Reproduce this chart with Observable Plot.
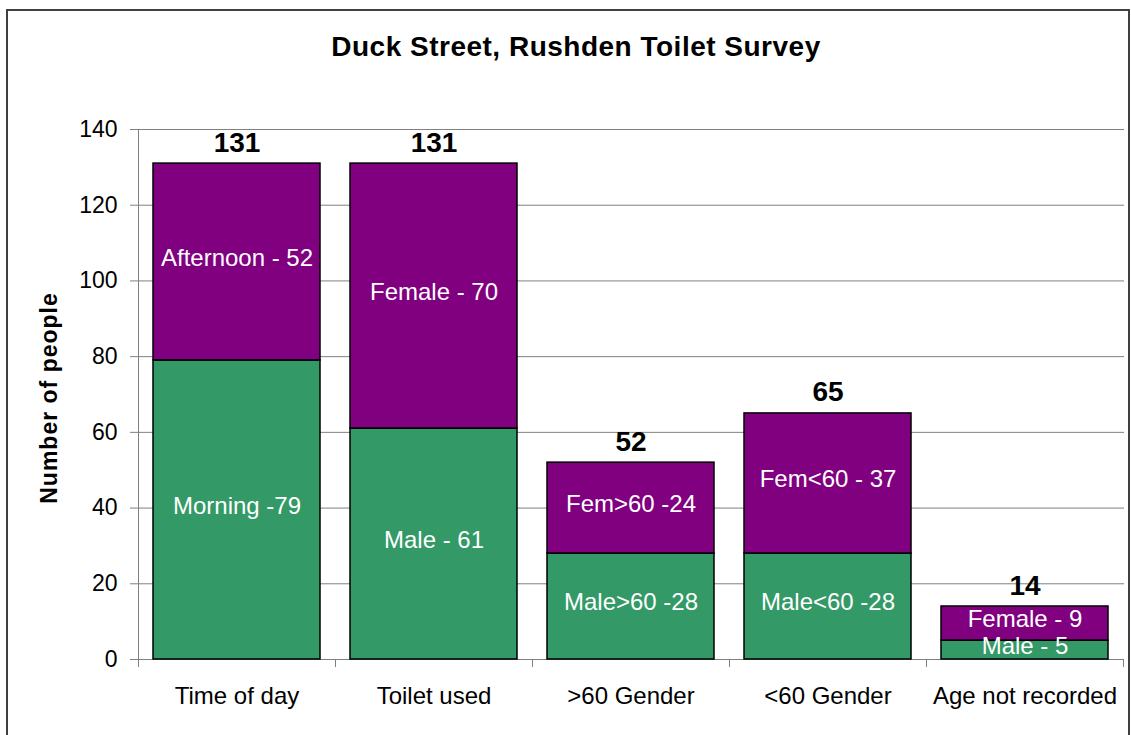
<!DOCTYPE html>
<html><head><meta charset="utf-8">
<script src="https://cdn.jsdelivr.net/npm/d3@7"></script>
<script src="https://cdn.jsdelivr.net/npm/@observablehq/plot@0.6"></script>
<style>
body{margin:0;background:#fff;}
#wrap{position:relative;width:1131px;height:735px;overflow:hidden;font-family:"Liberation Sans",Arial,sans-serif;color:#000;}
#border{position:absolute;left:6px;top:9px;width:1120px;height:800px;border:2px solid #404040;}
#title{position:absolute;left:0;width:1152px;top:33px;text-align:center;font-size:28px;font-weight:bold;line-height:28px;letter-spacing:0.5px;}
#ytitle{position:absolute;left:49px;top:398px;transform:translate(-50%,-50%) rotate(-90deg);white-space:nowrap;font-size:23px;font-weight:bold;letter-spacing:1px;}
#chart{position:absolute;left:0;top:0;}
</style></head>
<body><div id="wrap"><div id="border"></div><div id="chart"></div><div id="title">Duck Street, Rushden Toilet Survey</div><div id="ytitle">Number of people</div></div>
<script>
const categories = ["Time of day", "Toilet used", ">60 Gender", "<60 Gender", "Age not recorded"];
const lowerValues = [79, 61, 28, 28, 5];
const upperValues = [52, 70, 24, 37, 9];
const lowerLabels = ["Morning -79", "Male - 61", "Male>60 -28", "Male<60 -28", "Male - 5"];
const upperLabels = ["Afternoon - 52", "Female - 70", "Fem>60 -24", "Fem<60 - 37", "Female - 9"];
const totals = [131, 131, 52, 65, 14];
const yTicks = [0, 20, 40, 60, 80, 100, 120, 140];
const seriesNames = ["lower", "upper"];
const seriesColors = ["#339966", "#800080"];

const rows = [];
categories.forEach((c, i) => {
  rows.push({category: c, series: "lower", value: lowerValues[i], label: lowerLabels[i]});
  rows.push({category: c, series: "upper", value: upperValues[i], label: upperLabels[i]});
});
const totalRows = categories.map((c, i) => ({category: c, total: totals[i]}));

const padIn = 0.15, padOut = 0.075;
const plot = Plot.plot({
  width: 1131, height: 735,
  marginTop: 129, marginBottom: 76, marginLeft: 138, marginRight: 7,
  style: {fontFamily: "Liberation Sans, Arial, sans-serif", fontSize: "23px", color: "#000", background: "transparent", overflow: "visible"},
  x: {domain: categories, paddingInner: padIn, paddingOuter: padOut, label: null},
  y: {domain: [0, 140], label: null},
  color: {domain: seriesNames, range: seriesColors},
  marks: [
    Plot.gridY(yTicks, {stroke: "#808080", strokeOpacity: 1}),
    Plot.axisY(yTicks, {tickSize: 8, tickPadding: 13, stroke: "#808080", fill: "#000", fontSize: 23, label: null}),
    Plot.axisX({tickSize: 0, tickPadding: 27, fontSize: 24, fill: "#000", label: null}),
    Plot.barY(rows, {x: "category", y: "value", fill: "series", stroke: "#000", strokeWidth: 1.5}),
    Plot.text(rows, Plot.stackY({x: "category", y: "value", text: "label", fill: "#fff", fontSize: 24, dy: -4})),
    Plot.text(totalRows, {x: "category", y: "total", text: d => String(d.total), fontSize: 28, fontWeight: "bold", lineAnchor: "bottom", dy: -12})
  ]
});

const xs = plot.scale("x");
const ys = plot.scale("y");
const svg = d3.select(plot);
const step = xs.apply(categories[1]) - xs.apply(categories[0]);
const gap = step - xs.bandwidth;
const edges = categories.map(c => xs.apply(c) - gap / 2);
edges.push(xs.apply(categories[categories.length - 1]) + xs.bandwidth + gap / 2);
const y0 = ys.apply(0), yTop = ys.apply(140);
const g = svg.append("g").attr("stroke", "#808080").attr("stroke-width", 1);
g.append("line").attr("x1", edges[0] + 0.5).attr("x2", edges[0] + 0.5).attr("y1", yTop).attr("y2", y0 + 8);
g.selectAll("line.tk").data(edges).join("line").attr("class", "tk")
  .attr("x1", d => Math.round(d) + 0.5).attr("x2", d => Math.round(d) + 0.5)
  .attr("y1", y0).attr("y2", y0 + 8);
document.getElementById("chart").appendChild(plot);
</script>
</body></html>
